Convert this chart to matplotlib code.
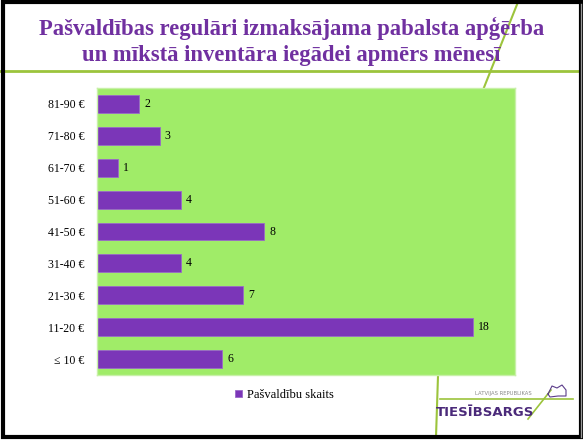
import matplotlib
matplotlib.use("Agg")
import matplotlib.pyplot as plt
from matplotlib.lines import Line2D
from matplotlib.patches import Rectangle

categories = ["81-90 €", "71-80 €", "61-70 €", "51-60 €", "41-50 €",
              "31-40 €", "21-30 €", "11-20 €", "≤ 10 €"]
values = [2, 3, 1, 4, 8, 4, 7, 18, 6]
series_name = "Pašvaldību skaits"
title_lines = ["Pašvaldības regulāri izmaksājama pabalsta apģērba",
               "un mīkstā inventāra iegādei apmērs mēnesī"]

W, H = 583, 440
fig = plt.figure(figsize=(W / 100, H / 100), dpi=100)
fig.patch.set_facecolor("white")

def fx(x):
    return x / W

def fy(y):
    return 1 - y / H

purple = "#7B36B8"
green_bg = "#A0EC68"
line_green = "#9CC43C"

# decorative lines (behind axes)
fig.add_artist(Line2D([fx(0), fx(583)], [fy(71), fy(71)], color=line_green, lw=2, zorder=0))
fig.add_artist(Line2D([fx(518), fx(483)], [fy(2), fy(90)], color=line_green, lw=1.5, zorder=0))
fig.add_artist(Line2D([fx(438), fx(436)], [fy(376), fy(437)], color=line_green, lw=1.5, zorder=0))

ax = fig.add_axes([fx(97), fy(375), fx(515) - fx(97), (375 - 88) / H])
ax.set_facecolor(green_bg)
ypos = list(range(len(categories)))
bars = ax.barh(ypos, values, height=0.56, color=purple, edgecolor="#9A6AC8", linewidth=0.6,
               label=series_name)
for y, v in zip(ypos, values):
    ax.text(v + 0.25, y, str(v), va="center", ha="left", fontsize=8.5,
            family="Liberation Serif", color="black")
ax.set_xlim(0, 20)
ax.set_ylim(len(categories) - 0.5, -0.5)
ax.set_yticks(ypos)
ax.set_yticklabels(categories, family="Liberation Serif", fontsize=8.5)
ax.tick_params(axis="y", length=0, pad=9)
ax.set_xticks([])
for s in ax.spines.values():
    s.set_color("#C8F0A8")
    s.set_linewidth(1)

# legend
fig.legend(handles=[bars], labels=[series_name], loc="center left",
           bbox_to_anchor=(fx(224), fy(395)), frameon=False,
           prop={"family": "Liberation Serif", "size": 9},
           handlelength=0.55, handleheight=0.55, handletextpad=0.4)

# title
for yy, line in zip([28, 55], title_lines):
    fig.text(0.5, fy(yy), line, ha="center", va="center", color="#7030A0",
             family="Liberation Serif", fontweight="bold", fontsize=16.3)

# logo
fig.add_artist(Line2D([fx(440), fx(573)], [fy(399), fy(399)], color=line_green, lw=1.2))
fig.add_artist(Line2D([fx(528), fx(551)], [fy(419), fy(390)], color=line_green, lw=1.2))
fig.text(fx(503), fy(393), "LATVIJAS REPUBLIKAS", ha="center", va="center",
         fontsize=3.8, color="#888888", family="DejaVu Sans")
fig.text(fx(485), fy(412), "TIESĪBSARGS", ha="center", va="center",
         fontsize=9.5, color="#4B2A7A", fontweight="bold", family="DejaVu Sans Condensed")
fig.add_artist(Line2D([fx(548), fx(552), fx(557), fx(562), fx(566), fx(566), fx(558), fx(550), fx(548)],
                      [fy(394), fy(386), fy(388), fy(385), fy(390), fy(396), fy(396), fy(397), fy(394)],
                      color="#5B3C8A", lw=0.8))

# slide frame
fig.add_artist(Rectangle((fx(3), fy(437)), fx(578), (437 - 2) / H, fill=False,
                         edgecolor="black", lw=3, zorder=10))
fig.add_artist(Line2D([fx(581), fx(581)], [fy(4), fy(437)], color="#999999", lw=1, zorder=11))

fig.savefig("out.png", dpi=100)
